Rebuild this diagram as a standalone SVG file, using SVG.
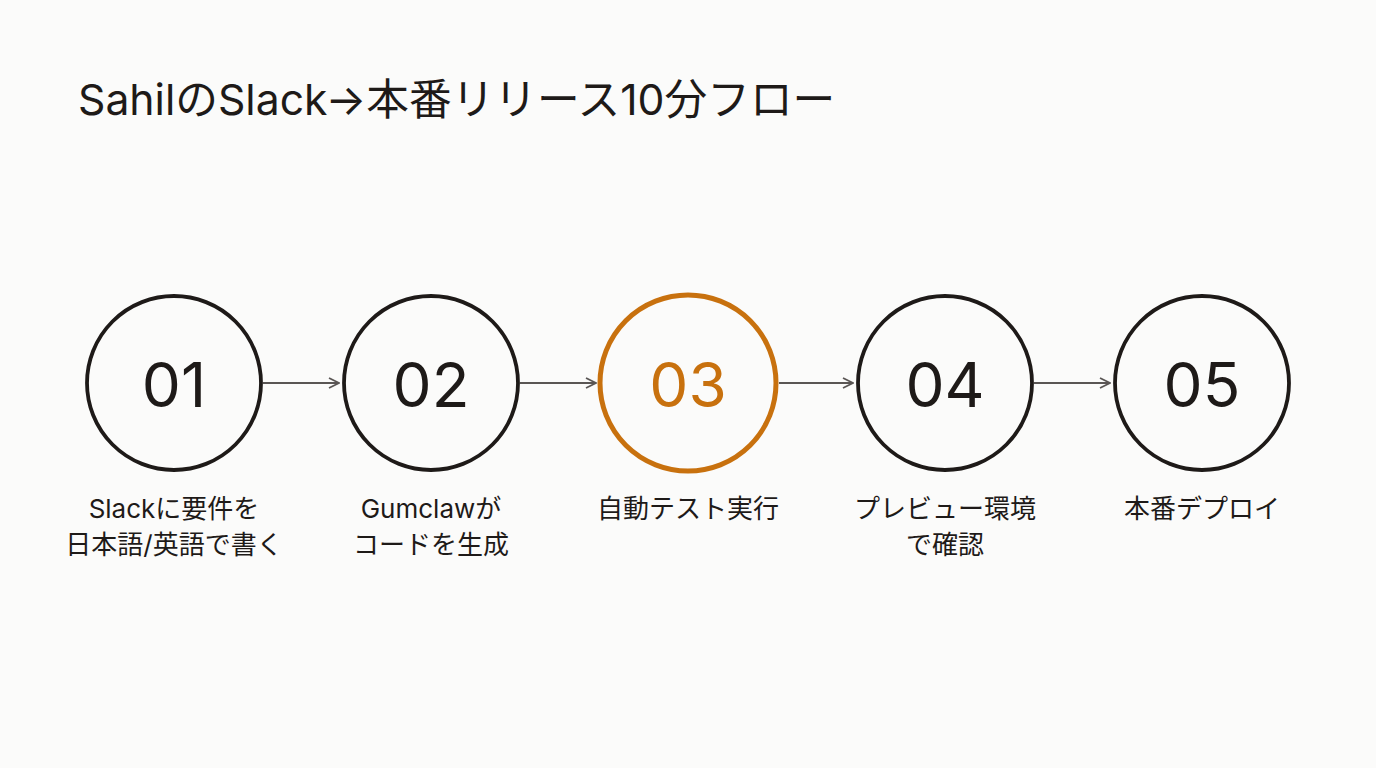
<svg xmlns="http://www.w3.org/2000/svg" width="1376" height="768" viewBox="0 0 1376 768">
<style>
.bg{fill:#fbfbfa}
.title{font-family:Inter,"Noto Sans CJK JP",sans-serif;font-size:42.7px;fill:#1e1a18}
.ring{fill:none;stroke:#1e1a18;stroke-width:3.8}
.ring.hi{stroke:#c8710e;stroke-width:5}
.num{font-family:Inter,"Noto Sans CJK JP",sans-serif;font-size:62px;fill:#1e1a18;text-anchor:middle}
.num.hi{fill:#c8710e}
.lbl{font-family:Inter,"Noto Sans CJK JP",sans-serif;font-size:26px;fill:#1e1a18;text-anchor:middle}
.conn{stroke:#5a5654;stroke-width:2;fill:none}
</style>
<defs>
<marker id="arr" viewBox="0 0 12 12" refX="11" refY="6" markerWidth="12" markerHeight="12" markerUnits="userSpaceOnUse" orient="auto">
<path d="M1,1 L11,6 L1,11" fill="none" stroke="#5a5654" stroke-width="1.8"/>
</marker>
</defs>
<rect class="bg" width="1376" height="768"/>
<text class="title" x="78" y="115">SahilのSlack→本番リリース10分フロー</text>
<g id="connectors">
<line class="conn" x1="263" y1="383" x2="339" y2="383" marker-end="url(#arr)"/>
<line class="conn" x1="520" y1="383" x2="596" y2="383" marker-end="url(#arr)"/>
<line class="conn" x1="779" y1="383" x2="853" y2="383" marker-end="url(#arr)"/>
<line class="conn" x1="1034" y1="383" x2="1110" y2="383" marker-end="url(#arr)"/>
</g>
<g id="step01">
<circle class="ring" cx="174" cy="383" r="87"/>
<text class="num" x="174" y="407">01</text>
<text class="lbl" x="174" y="518">Slackに要件を</text>
<text class="lbl" x="174" y="554">日本語/英語で書く</text>
</g>
<g id="step02">
<circle class="ring" cx="431" cy="383" r="87"/>
<text class="num" x="431" y="407">02</text>
<text class="lbl" x="431" y="518">Gumclawが</text>
<text class="lbl" x="431" y="554">コードを生成</text>
</g>
<g id="step03">
<circle class="ring hi" cx="688" cy="383" r="88"/>
<text class="num hi" x="688" y="407">03</text>
<text class="lbl" x="688" y="518">自動テスト実行</text>
</g>
<g id="step04">
<circle class="ring" cx="945" cy="383" r="87"/>
<text class="num" x="945" y="407">04</text>
<text class="lbl" x="945" y="518">プレビュー環境</text>
<text class="lbl" x="945" y="554">で確認</text>
</g>
<g id="step05">
<circle class="ring" cx="1202" cy="383" r="87"/>
<text class="num" x="1202" y="407">05</text>
<text class="lbl" x="1202" y="518">本番デプロイ</text>
</g>
</svg>
